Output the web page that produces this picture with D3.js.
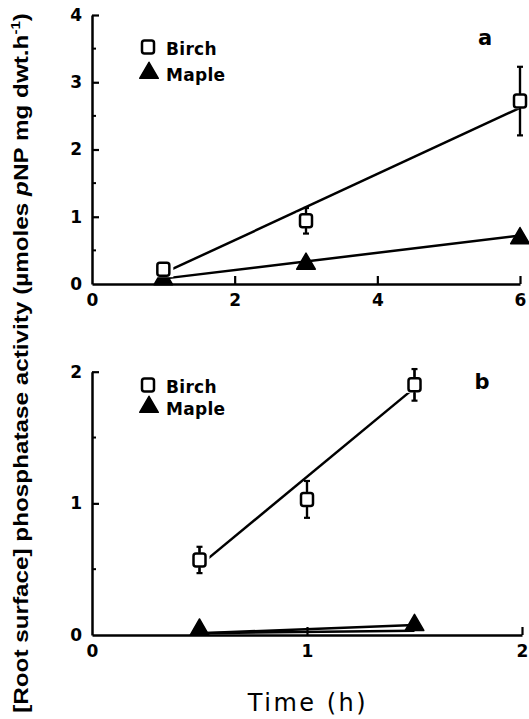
<!DOCTYPE html>
<html>
<head>
<meta charset="utf-8">
<script src="https://cdn.jsdelivr.net/npm/d3@7"></script>
<style>
  body { margin: 0; background: #fff; }
  svg { display: block; }
</style>
</head>
<body>
<div id="wrapper"></div>
<script>
// DATA
const seriesNames = ["Birch", "Maple"];

// panel a (time in h)
const timeA = [1, 3, 6];
const birchA = [0.22, 0.94, 2.72];
const birchAErr = [0, 0.19, 0.51];
const mapleA = [0.07, 0.30, 0.68];
const birchAFit = [[1, 0.16], [6, 2.62]];
const mapleAFit = [[1, 0.08], [6, 0.72]];
const xTicksA = [0, 2, 4, 6];
const yTicksA = [0, 1, 2, 3, 4];

// panel b
const timeB = [0.5, 1, 1.5];
const birchB = [0.57, 1.03, 1.90];
const birchBErr = [0.10, 0.14, 0.12];
const timeBMaple = [0.5, 1.5];
const mapleB = [0.04, 0.075];
const birchBFit = [[0.5, 0.527], [1.5, 1.877]];
const mapleBFit = [[0.5, 0.013], [1.5, 0.076]];
const mapleBFit2 = [[0.5, 0.013], [1.5, 0.033]];
const xTicksB = [0, 1, 2];
const yTicksB = [0, 1, 2];

const svg = d3.select("#wrapper")
  .append("svg")
  .attr("width", 529)
  .attr("height", 719);

const tickFont = "'DejaVu Sans', sans-serif";

function drawPanel(opt) {
  const g = svg.append("g");
  const x = d3.scaleLinear().domain(opt.xDomain).range([92, opt.xRight]);
  const y = d3.scaleLinear().domain(opt.yDomain).range([opt.yBottom, opt.yTop]);

  // minor y ticks at halves
  const minor = d3.range(opt.yDomain[0] + 0.5, opt.yDomain[1], 1);
  g.append("g")
    .selectAll("line")
    .data(minor)
    .join("line")
    .attr("x1", x(0))
    .attr("x2", x(0) + 4)
    .attr("y1", d => y(d))
    .attr("y2", d => y(d))
    .attr("stroke", "#000")
    .attr("stroke-width", 2);

  //AXES
  const yAxis = g.append("g")
    .attr("transform", `translate(${x(0)},0)`)
    .call(d3.axisLeft(y).tickValues(opt.yTicks).tickSizeInner(-7).tickSizeOuter(0).tickPadding(10).tickFormat(d3.format("d")));

  const xAxis = g.append("g")
    .attr("transform", `translate(0,${y(0)})`)
    .call(d3.axisBottom(x).tickValues(opt.xTicks).tickSizeInner(-8).tickSizeOuter(0).tickPadding(10).tickFormat(d3.format("d")));

  [xAxis, yAxis].forEach(ax => {
    ax.select(".domain").attr("stroke-width", 2.5);
    ax.selectAll(".tick line").attr("stroke-width", 2.2);
    ax.selectAll(".tick text")
      .attr("font-family", tickFont)
      .attr("font-weight", "bold")
      .attr("font-size", 17)
      .attr("fill", "#000");
  });
  xAxis.selectAll(".tick").filter(d => d === 0).select("line").remove();
  yAxis.selectAll(".tick").filter(d => d === 0).select("line").remove();

  const line = d3.line().x(d => x(d[0])).y(d => y(d[1]));

  // fitted lines
  opt.fits.forEach(f => {
    g.append("path")
      .attr("d", line(f))
      .attr("fill", "none")
      .attr("stroke", "#000")
      .attr("stroke-width", 2.5);
  });

  // maple triangles
  const tri = d3.symbol().type(d3.symbolTriangle).size(150);
  g.append("g")
    .selectAll("path")
    .data(opt.maple)
    .join("path")
    .attr("d", tri)
    .attr("transform", d => `translate(${x(d[0])},${y(d[1])})`)
    .attr("fill", "#000")
    .attr("stroke", "#000")
    .attr("stroke-width", 1.5)
    .attr("stroke-linejoin", "round");

  // birch error bars
  const err = g.append("g")
    .selectAll("g")
    .data(opt.birch.filter(d => d[2] > 0))
    .join("g")
    .attr("stroke", "#000")
    .attr("stroke-width", 2.2);
  err.append("line")
    .attr("x1", d => x(d[0])).attr("x2", d => x(d[0]))
    .attr("y1", d => y(d[1] - d[2])).attr("y2", d => y(d[1] + d[2]));
  err.append("line")
    .attr("x1", d => x(d[0]) - 3).attr("x2", d => x(d[0]) + 3)
    .attr("y1", d => y(d[1] - d[2])).attr("y2", d => y(d[1] - d[2]));
  err.append("line")
    .attr("x1", d => x(d[0]) - 3).attr("x2", d => x(d[0]) + 3)
    .attr("y1", d => y(d[1] + d[2])).attr("y2", d => y(d[1] + d[2]));

  // birch squares with white halo
  const sq = g.append("g")
    .selectAll("g")
    .data(opt.birch)
    .join("g")
    .attr("transform", d => `translate(${x(d[0])},${y(d[1])})`);
  sq.append("rect")
    .attr("x", -10).attr("y", -8).attr("width", 20).attr("height", 16)
    .attr("fill", "#fff");
  sq.append("rect")
    .attr("x", -6).attr("y", -6.5).attr("width", 12).attr("height", 13)
    .attr("rx", 2.5)
    .attr("fill", "#fff")
    .attr("stroke", "#000")
    .attr("stroke-width", 2.5);
  // redraw the error bar stems over the halo
  sq.filter(d => d[2] > 0).append("line")
    .attr("y1", d => y(d[1] - d[2]) - y(d[1]))
    .attr("y2", 6.5)
    .attr("stroke", "#000").attr("stroke-width", 2.2);
  sq.filter(d => d[2] > 0).append("line")
    .attr("y1", d => y(d[1] + d[2]) - y(d[1]))
    .attr("y2", -6.5)
    .attr("stroke", "#000").attr("stroke-width", 2.2);

  //LEGEND
  const lg = g.append("g").attr("transform", `translate(148,${opt.legendY})`);
  lg.append("rect")
    .attr("x", -6).attr("y", -6.5).attr("width", 12).attr("height", 13)
    .attr("rx", 2.5)
    .attr("fill", "#fff").attr("stroke", "#000").attr("stroke-width", 2.5);
  lg.append("path")
    .attr("d", tri)
    .attr("transform", `translate(1,${opt.legendGap})`)
    .attr("fill", "#000").attr("stroke", "#000").attr("stroke-width", 1.5)
    .attr("stroke-linejoin", "round");
  lg.selectAll("text")
    .data(seriesNames)
    .join("text")
    .attr("x", 18)
    .attr("y", (d, i) => 8 + i * opt.legendGap)
    .attr("font-family", tickFont)
    .attr("font-weight", "bold")
    .attr("font-size", 17)
    .attr("letter-spacing", 0.3)
    .text(d => d);

  g.append("text")
    .attr("x", opt.letterX)
    .attr("y", opt.letterY)
    .attr("text-anchor", "middle")
    .attr("font-family", tickFont)
    .attr("font-weight", "bold")
    .attr("font-size", 21)
    .text(opt.letter);
}

drawPanel({
  xDomain: [0, 6], xRight: 520,
  yDomain: [0, 4], yBottom: 284, yTop: 15,
  xTicks: xTicksA, yTicks: yTicksA,
  fits: [birchAFit, mapleAFit],
  birch: timeA.map((t, i) => [t, birchA[i], birchAErr[i]]),
  maple: timeA.map((t, i) => [t, mapleA[i]]),
  legendY: 47, legendGap: 26,
  letter: "a", letterX: 485, letterY: 45
});

drawPanel({
  xDomain: [0, 2], xRight: 522,
  yDomain: [0, 2], yBottom: 635, yTop: 371.7,
  xTicks: xTicksB, yTicks: yTicksB,
  fits: [birchBFit, mapleBFit, mapleBFit2],
  birch: timeB.map((t, i) => [t, birchB[i], birchBErr[i]]),
  maple: timeBMaple.map((t, i) => [t, mapleB[i]]),
  legendY: 385, legendGap: 22,
  letter: "b", letterX: 482, letterY: 389
});

// X TITLE
svg.append("text")
  .attr("x", 308)
  .attr("y", 711)
  .attr("text-anchor", "middle")
  .attr("font-family", tickFont)
  .attr("font-size", 24)
  .attr("letter-spacing", 2.5)
  .text("Time (h)");

// Y TITLE
const yTitle = svg.append("text")
  .attr("font-family", "'Liberation Sans', Arial, sans-serif")
  .attr("font-size", 21)
  .attr("font-weight", "bold")
  .attr("text-anchor", "middle");
yTitle.append("tspan").text("[Root surface] phosphatase activity (µmoles ");
yTitle.append("tspan").attr("font-style", "italic").text("p");
yTitle.append("tspan").text("NP mg dwt.h");
yTitle.append("tspan").attr("font-size", 13).attr("dy", -8).text("-1");
yTitle.append("tspan").attr("dy", 8).text(")");
const len = yTitle.node().getComputedTextLength();
yTitle.attr("transform", `translate(28,363) rotate(-90) scale(${700 / len},1)`);
</script>
</body>
</html>
